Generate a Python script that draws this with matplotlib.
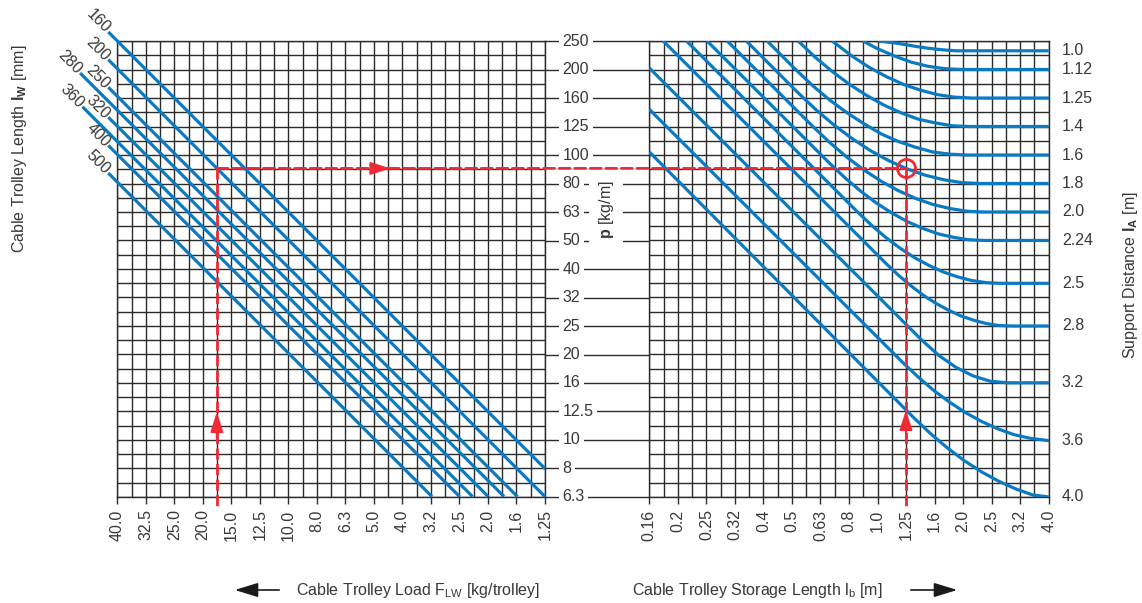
import matplotlib.pyplot as plt
from matplotlib.patches import ConnectionPatch, FancyArrowPatch
import numpy as np

plt.rcParams['font.family'] = ['Liberation Sans', 'DejaVu Sans']
plt.rcParams['mathtext.fontset'] = 'custom'
plt.rcParams['mathtext.rm'] = 'Liberation Sans'
plt.rcParams['mathtext.it'] = 'Liberation Sans:italic'
plt.rcParams['mathtext.bf'] = 'Liberation Sans:bold'

TEXT = '#383838'
GRID = '#2b2b2b'
BLUE = '#0a7bc2'
RED = '#ee2a35'
FS = 11.5

# --- data ---
p_labels = ['250', '200', '160', '125', '100', '80', '63', '50', '40', '32',
            '25', '20', '16', '12.5', '10', '8', '6.3']
load_labels = ['40.0', '32.5', '25.0', '20.0', '15.0', '12.5', '10.0', '8.0',
               '6.3', '5.0', '4.0', '3.2', '2.5', '2.0', '1.6', '1.25']
storage_labels = ['0.16', '0.2', '0.25', '0.32', '0.4', '0.5', '0.63', '0.8',
                  '1.0', '1.25', '1.6', '2.0', '2.5', '3.2', '4.0']

# left panel: cable trolley length lines (start outside the frame, end on it)
lw_labels = ['160', '200', '250', '280', '320', '360', '400', '500']
load_start = [43.0, 43.0, 43.0, 54.0, 43.0, 53.0, 43.0, 43.0]
p_start = [269, 215, 172, 193, 135, 147, 107.5, 86]
load_end = [1.265, 1.265, 1.58, 1.76, 2.0, 2.27, 2.52, 3.15]
p_end = [7.9, 6.3, 6.3, 6.3, 6.3, 6.3, 6.3, 6.3]

# right panel: support distance curves
support_labels = ['1.0', '1.12', '1.25', '1.4', '1.6', '1.8', '2.0', '2.24',
                  '2.5', '2.8', '3.2', '3.6', '4.0']
curve_lb = [
    [1.02, 1.20, 1.35, 1.51, 1.69, 1.90, 2.13, 4.02],
    [0.898, 1.0, 1.15, 1.32, 1.51, 1.73, 1.99, 4.02],
    [0.700, 0.823, 0.944, 1.084, 1.245, 1.429, 1.641, 1.884, 2.163, 4.02],
    [0.532, 0.611, 0.702, 0.806, 0.925, 1.062, 1.219, 1.400, 1.607, 1.846, 2.119, 4.02],
    [0.414, 0.521, 0.599, 0.687, 0.789, 0.906, 1.040, 1.194, 1.371, 1.574, 1.808, 2.076, 4.02],
    [0.350, 0.530, 0.614, 0.711, 0.824, 0.955, 1.107, 1.283, 1.486, 1.722, 1.996, 2.313, 4.02],
    [0.300, 0.599, 0.687, 0.789, 0.906, 1.040, 1.194, 1.371, 1.574, 1.808, 2.076, 2.383, 4.02],
    [0.255, 0.687, 0.778, 0.881, 0.998, 1.130, 1.280, 1.449, 1.641, 1.858, 2.104, 2.383, 4.02],
    [0.216, 0.859, 0.964, 1.082, 1.214, 1.362, 1.528, 1.714, 1.924, 2.158, 2.422, 2.717, 4.02],
    [0.179, 1.079, 1.194, 1.322, 1.463, 1.619, 1.791, 1.982, 2.193, 2.427, 2.686, 2.973, 4.02],
    [0.16, 1.443, 1.656, 1.902, 2.183, 2.507, 2.878, 4.02],
    [0.16, 1.228, 1.397, 1.589, 1.808, 2.057, 2.339, 2.661, 3.028, 3.444, 4.02],
    [0.16, 1.346, 1.546, 1.775, 2.038, 2.339, 2.686, 3.084, 3.541, 4.02],
]
curve_p = [
    [250, 245, 240, 236, 233, 231, 231, 231],
    [250, 236, 222, 211, 204, 200, 198.6, 198.6],
    [250, 221, 202, 187.5, 176, 168, 162, 158.8, 157.7, 157.7],
    [250, 219, 195, 176, 161, 149, 140, 133, 129, 126, 125.3, 125.3],
    [250, 198.6, 174, 155, 140, 128, 118, 111, 106, 102, 100.2, 99.5, 99.5],
    [250, 165, 143.5, 126.7, 113.5, 103, 95, 88.9, 84.5, 81.5, 79.6, 79.06, 79.06],
    [250, 125.3, 110, 97.7, 88.1, 80.5, 74.6, 70.1, 66.8, 64.6, 63.2, 62.8, 62.8],
    [250, 92.9, 82.6, 74.3, 67.6, 62.4, 58.2, 55.1, 52.7, 51.2, 50.2, 49.9, 49.9],
    [250, 62.8, 56.3, 51.0, 46.8, 43.4, 40.8, 38.7, 37.2, 36.1, 35.5, 35.3, 35.3],
    [250, 41.5, 37.7, 34.6, 32.0, 30.0, 28.4, 27.1, 26.2, 25.5, 25.1, 25.0, 25.0],
    [201, 22.3, 19.7, 17.9, 16.7, 16.0, 15.8, 15.8],
    [143.9, 18.75, 16.6, 14.85, 13.5, 12.4, 11.56, 10.9, 10.4, 10.1, 9.9],
    [102, 11.97, 10.49, 9.33, 8.41, 7.69, 7.13, 6.70, 6.38, 6.28],
]

# worked example
ex_load = 17.9
ex_p = 89.3
ex_lb = 1.27

# --- figure ---
fig = plt.figure(figsize=(11.42, 6.03), dpi=100)
ax_l = fig.add_axes([0.1027, 0.1758, 0.3745, 0.7562])
ax_m = fig.add_axes([0.4772, 0.1758, 0.0914, 0.7562])
ax_r = fig.add_axes([0.5686, 0.1758, 0.3497, 0.7562])

P_MIN, P_MAX = 6.28, 250
p_major = P_MAX * 10 ** (-np.arange(17) / 10)
p_minor = P_MAX * 10 ** (-(np.arange(16) + 0.5) / 10)
load_major = 40 * 10 ** (-np.arange(16) / 10)
load_minor = 40 * 10 ** (-(np.arange(15) + 0.5) / 10)
lb_major = 0.16 * 10 ** (np.arange(15) / 10)
lb_minor = 0.16 * 10 ** ((np.arange(14) + 0.5) / 10)

for ax, xmaj, xmin, xlab, xlim in [
        (ax_l, load_major, load_minor, load_labels, (40, load_major[-1])),
        (ax_r, lb_major, lb_minor, storage_labels, (0.16, lb_major[-1]))]:
    ax.set_xscale('log')
    ax.set_yscale('log')
    ax.set_xlim(*xlim)
    ax.set_ylim(P_MIN, P_MAX)
    ax.set_xticks(xmaj, xlab, rotation=90)
    ax.set_xticks(xmin, minor=True)
    ax.set_xticklabels([], minor=True)
    ax.set_yticks(p_major)
    ax.set_yticks(p_minor, minor=True)
    ax.set_yticklabels([])
    ax.set_yticklabels([], minor=True)
    ax.tick_params(axis='x', which='major', direction='out', length=5,
                   width=1, color=GRID, pad=4, labelsize=FS, labelcolor=TEXT)
    ax.tick_params(axis='x', which='minor', length=0)
    ax.tick_params(axis='y', which='both', length=0)
    ax.grid(True, which='both', color=GRID, lw=1.0)
    ax.set_axisbelow(True)
    for s in ax.spines.values():
        s.set_color(GRID)
        s.set_linewidth(1.0)

# left panel lines + labels
for lab, f0, p0, f1, p1 in zip(lw_labels, load_start, p_start, load_end, p_end):
    ax_l.plot([f0, f1], [p0, p1], color=BLUE, lw=2.3, clip_on=False, zorder=3,
              solid_capstyle='butt')
    ax_l.annotate(lab, xy=(f0, p0), xytext=(-7.5, 7.5), textcoords='offset points',
                  rotation=-45, ha='center', va='center', fontsize=FS,
                  color=TEXT, annotation_clip=False)

# right panel curves + labels
for lab, xs, ys in zip(support_labels, curve_lb, curve_p):
    ax_r.plot(xs, ys, color=BLUE, lw=2.3, zorder=3, solid_capstyle='butt')
    ax_r.annotate(lab, xy=(1.033, ys[-1]), xycoords=('axes fraction', 'data'),
                  ha='left', va='center', fontsize=FS, color=TEXT,
                  annotation_clip=False)

# middle scale
ax_m.set_yscale('log')
ax_m.set_ylim(P_MIN, P_MAX)
ax_m.set_xlim(0, 1)
ax_m.axis('off')
ax_m.hlines(p_major, 0, 1, color=GRID, lw=1.0, zorder=1, clip_on=False)
for lab, pv in zip(p_labels, p_major):
    ax_m.text(0.17, pv, lab, ha='left', va='center', fontsize=FS, color=TEXT,
              zorder=2, bbox=dict(boxstyle='square,pad=0.22', fc='white', ec='none'))
ax_m.text(0.585, 64, r'$\mathbf{p}$ [kg/m]', rotation=90, ha='center',
          va='center', fontsize=FS, color=TEXT, zorder=2,
          bbox=dict(boxstyle='square,pad=0.45', fc='white', ec='none'))

# worked example in red
dash = (0, (4, 1.6))
ax_l.plot([ex_load, ex_load], [ex_p, 5.7], color=RED, lw=2, ls=dash,
          clip_on=False, zorder=5)
ax_r.plot([ex_lb, ex_lb], [ex_p, 5.7], color=RED, lw=2, ls=dash,
          clip_on=False, zorder=5)
con = ConnectionPatch(xyA=(ex_load, ex_p), coordsA=ax_l.transData,
                      xyB=(ex_lb, ex_p), coordsB=ax_r.transData,
                      color=RED, lw=2, linestyle=dash, zorder=5)
fig.add_artist(con)
ax_r.plot(ex_lb, ex_p, 'o', ms=13, mfc='none', mec=RED, mew=2, zorder=6,
          clip_on=False)

head = '-|>,head_length=1.1,head_width=0.35'
for ax, xy, xytext in [(ax_l, (ex_load, 12.5), (ex_load, 10.0)),
                       (ax_r, (ex_lb, 12.7), (ex_lb, 10.0)),
                       (ax_l, (4.4, ex_p), (5.0, ex_p))]:
    ax.annotate('', xy=xy, xytext=xytext,
                arrowprops=dict(arrowstyle=head, color=RED, lw=1.5,
                                mutation_scale=11, shrinkA=0, shrinkB=0),
                zorder=6)

# axis titles
fig.text(20 / 1142, 1 - 149 / 603, r'Cable Trolley Length $\mathbf{l_W}$ [mm]',
         rotation=90, ha='center', va='center', fontsize=FS, color=TEXT)
fig.text(1131 / 1142, 1 - 275 / 603, r'Support Distance $\mathbf{l_A}$ [m]',
         rotation=90, ha='center', va='center', fontsize=FS, color=TEXT)
fig.text(296 / 1142, 1 - 590 / 603, r'Cable Trolley Load $\mathrm{F_{LW}}$ [kg/trolley]',
         ha='left', va='center', fontsize=FS, color=TEXT)
fig.text(632 / 1142, 1 - 590 / 603, r'Cable Trolley Storage Length $\mathrm{l_b}$ [m]',
         ha='left', va='center', fontsize=FS, color=TEXT)

for x0, x1 in [(282, 232), (908, 960)]:
    fig.add_artist(FancyArrowPatch((x0 / 1142, 1 - 590 / 603), (x1 / 1142, 1 - 590 / 603),
                                   transform=fig.transFigure,
                                   arrowstyle='-|>,head_length=1.3,head_width=0.4',
                                   mutation_scale=11, color='#1a1a1a', lw=1.2))

fig.savefig('out.png', dpi=100)
